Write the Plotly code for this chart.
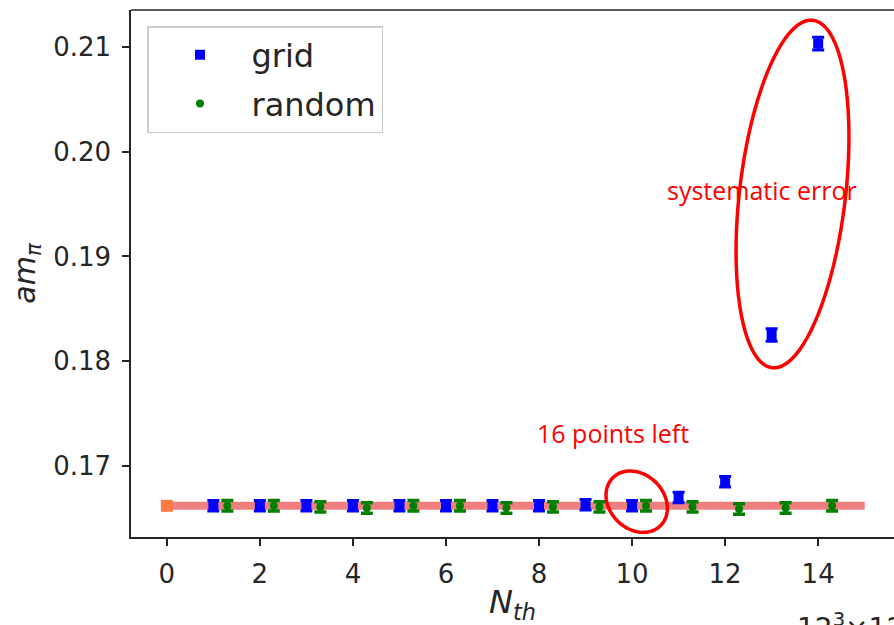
import numpy as np
import plotly.graph_objects as go

# ---- data ----
grid_x = [1, 2, 3, 4, 5, 6, 7, 8, 9, 10, 11, 12, 13, 14]
grid_y = [0.1662, 0.1662, 0.1662, 0.1662, 0.1662, 0.1662, 0.1662, 0.1662, 0.1663, 0.1662,
          0.1670, 0.1685, 0.1825, 0.2103]
grid_err = [0.0005] * 12 + [0.0006, 0.0006]

random_x = [1.3, 2.3, 3.3, 4.3, 5.3, 6.3, 7.3, 8.3, 9.3, 10.3, 11.3, 12.3, 13.3, 14.3]
random_y = [0.1662, 0.1662, 0.1661, 0.1660, 0.1662, 0.1662, 0.1660, 0.1661, 0.1661, 0.1662,
            0.1661, 0.1659, 0.1660, 0.1662]
random_err = [0.0005] * 14

ref_x = [0]
ref_y = [0.1662]
band_x = [0, 15]
band_y = [0.1662, 0.1662]

x_ticks = [0, 2, 4, 6, 8, 10, 12, 14]
y_ticks = [0.17, 0.18, 0.19, 0.20, 0.21]
y_tick_text = ["0.17", "0.18", "0.19", "0.20", "0.21"]

# ---- layout geometry (pixels) ----
W, H = 894, 625
L, R, T, B = 131, 0, 10, 88
PW, PH = W - L - R, H - T - B


def px2paper(px, py):
    return (px - L) / PW, 1 - (py - T) / PH


def ellipse_path(cx, cy, a, b, ang_deg, n=90):
    th = np.deg2rad(ang_deg)
    u = (np.cos(th), np.sin(th))
    v = (-np.sin(th), np.cos(th))
    pts = []
    for t in np.linspace(0, 2 * np.pi, n, endpoint=False):
        px = cx + a * np.cos(t) * u[0] + b * np.sin(t) * v[0]
        py = cy + a * np.cos(t) * u[1] + b * np.sin(t) * v[1]
        pts.append(px2paper(px, py))
    d = "M " + " L ".join(f"{x:.5f},{y:.5f}" for x, y in pts) + " Z"
    return d


fig = go.Figure()

fig.add_trace(go.Scatter(
    x=band_x, y=band_y, mode="lines",
    line=dict(color="#f08080", width=8), showlegend=False, hoverinfo="skip"))

fig.add_trace(go.Scatter(
    x=ref_x, y=ref_y, mode="markers",
    marker=dict(symbol="square", size=12, color="#ff7b45"), showlegend=False))

fig.add_trace(go.Scatter(
    x=grid_x, y=grid_y, mode="markers", name="grid", legendgroup="g1",
    marker=dict(symbol="square", size=10, color="#0000ff"),
    error_y=dict(type="data", array=grid_err, visible=True, color="#0000ff", thickness=3, width=6)))

fig.add_trace(go.Scatter(
    x=random_x, y=random_y, mode="markers", name="random", legendgroup="g2",
    marker=dict(symbol="circle", size=8, color="#008000"),
    error_y=dict(type="data", array=random_err, visible=True, color="#008000", thickness=3.5, width=6)))

tick_font = dict(family="DejaVu Sans", size=26, color="#262626")

fig.update_layout(
    width=W, height=H,
    margin=dict(l=L, r=R, t=T, b=B, autoexpand=False),
    plot_bgcolor="white", paper_bgcolor="white",
    showlegend=True,
    legend=dict(
        x=(147 - L) / PW, y=1 - (26 - T) / PH, xanchor="left", yanchor="top",
        bgcolor="white", bordercolor="#cccccc", borderwidth=1.5,
        font=dict(family="DejaVu Sans", size=32, color="#262626"),
        itemwidth=93, traceorder="grouped", tracegroupgap=4),
    xaxis=dict(
        range=[-0.77, 15.63], tickvals=x_ticks, showgrid=False, zeroline=False,
        showline=True, linecolor="#262626", linewidth=1.5, automargin=False,
        ticks="outside", ticklen=7, tickwidth=1.5, tickcolor="#262626",
        tickfont=tick_font, ticklabelstandoff=6,
        title=dict(text="<i>N</i><sub><i>th</i></sub>",
                   font=dict(family="DejaVu Sans", size=32, color="#262626"), standoff=23)),
    yaxis=dict(
        range=[0.163225, 0.213511], tickvals=y_ticks, ticktext=y_tick_text,
        showgrid=False, zeroline=False, automargin=False,
        showline=True, linecolor="#262626", linewidth=1.5,
        ticks="outside", ticklen=7, tickwidth=1.5, tickcolor="#262626",
        tickfont=tick_font, ticklabelstandoff=6,
        title=dict(text="<i>am</i><sub><i>π</i></sub>",
                   font=dict(family="DejaVu Sans", size=30, color="#262626"), standoff=9)),
)

# top spine
fig.add_shape(type="line", xref="paper", yref="paper", x0=0, x1=1, y0=1, y1=1,
              line=dict(color="#262626", width=1.5))

# red ellipses
fig.add_shape(type="path", xref="paper", yref="paper",
              path=ellipse_path(792.5, 194, 175, 53, -83.3),
              line=dict(color="#ff0000", width=3.5))
fig.add_shape(type="path", xref="paper", yref="paper",
              path=ellipse_path(636.7, 501.7, 33.8, 27.2, 45),
              line=dict(color="#ff0000", width=3.5))

ax, ay = px2paper(762, 190)
fig.add_annotation(x=ax, y=ay, xref="paper", yref="paper", text="systematic error",
                   showarrow=False, xanchor="center", yanchor="middle",
                   font=dict(family="Open Sans", size=25, color="#ff0000"))
ax, ay = px2paper(613, 433)
fig.add_annotation(x=ax, y=ay, xref="paper", yref="paper", text="16 points left",
                   showarrow=False, xanchor="center", yanchor="middle",
                   font=dict(family="Open Sans", size=25, color="#ff0000"))
ax, ay = px2paper(795, 606)
fig.add_annotation(x=ax, y=ay, xref="paper", yref="paper", text="12<sup>3</sup>×128",
                   showarrow=False, xanchor="left", yanchor="top",
                   font=dict(family="DejaVu Sans", size=28, color="#262626"))

fig.write_html("out.html", config={"displayModeBar": False},
               post_script="document.body.style.margin='0px';")
